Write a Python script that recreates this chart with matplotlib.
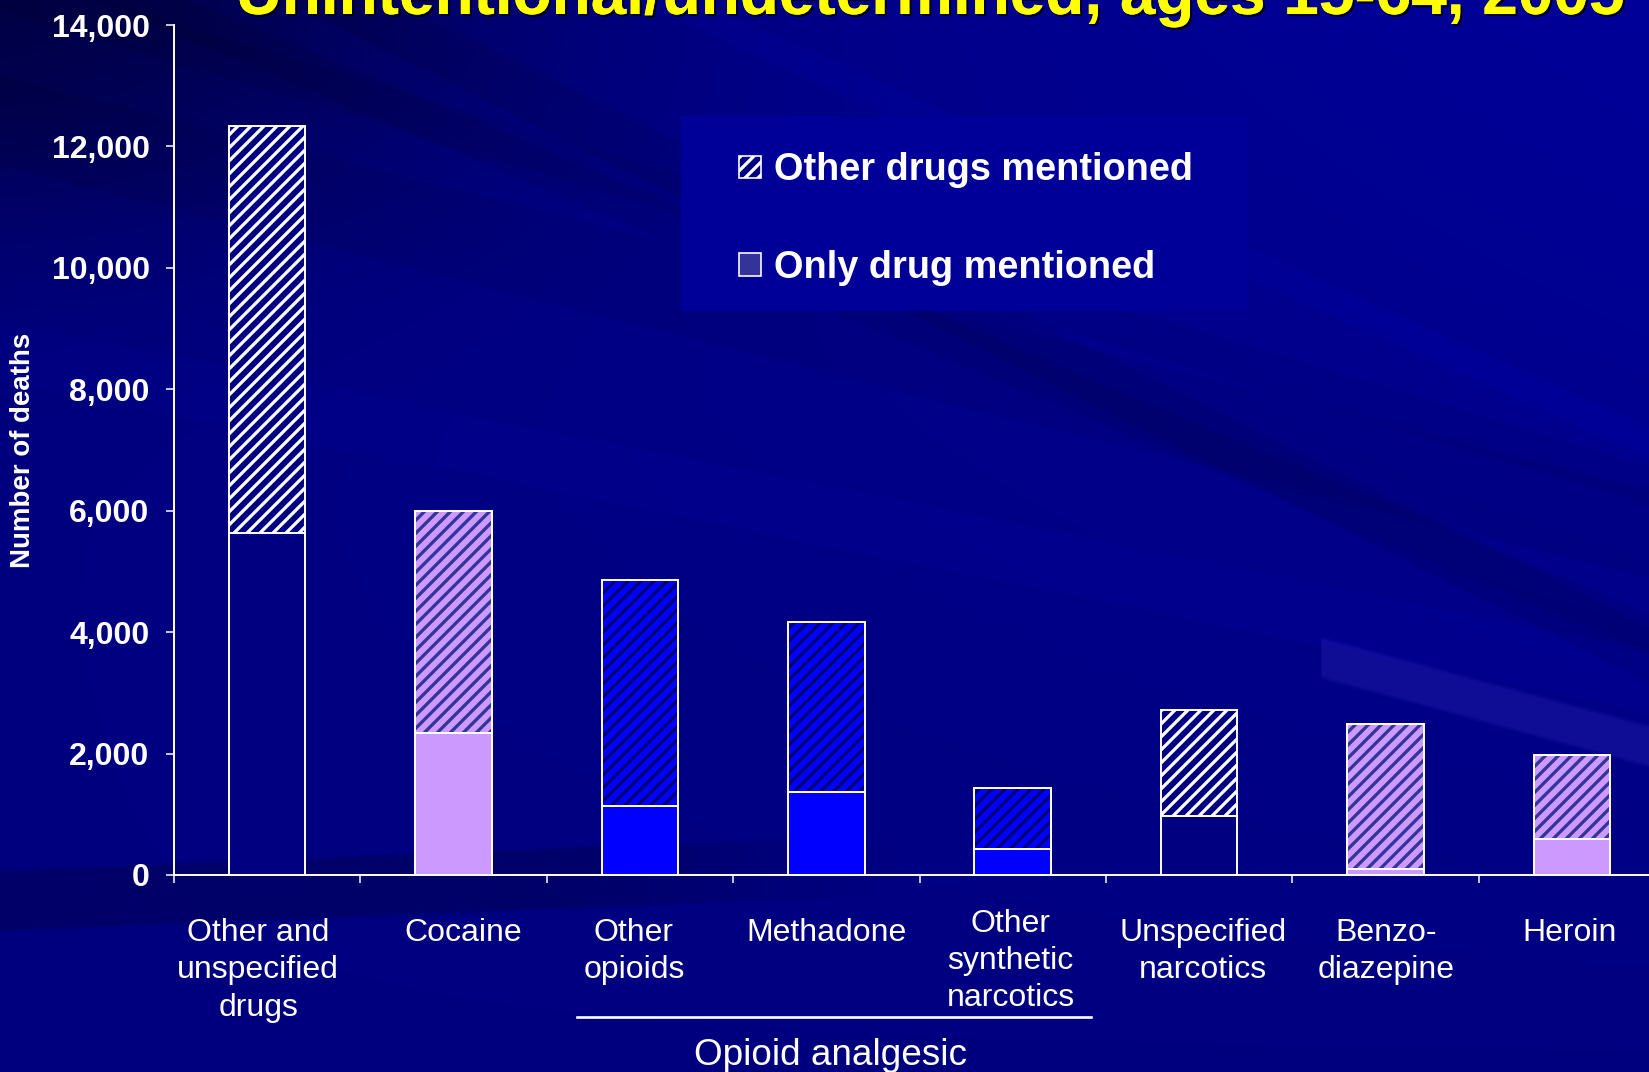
import numpy as np
import matplotlib.pyplot as plt
import matplotlib.patheffects as pe
from matplotlib.patches import Rectangle
from matplotlib.transforms import blended_transform_factory, ScaledTranslation

plt.rcParams['font.family'] = ['Liberation Sans', 'DejaVu Sans']
plt.rcParams['hatch.linewidth'] = 3.0

# ---- data ----
categories = ["Other and\nunspecified\ndrugs", "Cocaine", "Other\nopioids", "Methadone",
              "Other\nsynthetic\nnarcotics", "Unspecified\nnarcotics", "Benzo-\ndiazepine", "Heroin"]
only_drug = [5630, 2340, 1135, 1365, 428, 975, 100, 585]
other_drugs = [6700, 3650, 3725, 2810, 1002, 1745, 2390, 1395]
bar_colors = ["#000080", "#CC99FF", "#0000FF", "#0000FF", "#0000FF", "#000080", "#CC99FF", "#CC99FF"]
hatch_colors = ["#FFFFFF", "#333399", "#000070", "#000070", "#000070", "#FFFFFF", "#333399", "#333399"]
yticks = [0, 2000, 4000, 6000, 8000, 10000, 12000, 14000]
legend_labels = ["Other drugs mentioned", "Only drug mentioned"]
title = "Unintentional/undetermined, ages 15-64, 2005"
group_label = "Opioid analgesic"
group_members = [2, 3, 4]

W, H, DPI = 1649, 1072, 78
fig = plt.figure(figsize=(W / DPI, H / DPI), dpi=DPI)

# ---- slide background: navy gradient with faint diagonal streaks ----
yy, xx = np.mgrid[0:H:2, 0:W:2].astype(float)
blue = (0.50 + 0.10 * (xx / W) * (1 - yy / H)
        - 0.22 * np.exp(-((xx / W) ** 2 + (yy / H * 1.5) ** 2) / 0.10))

def band(y0, slope, width, amp):
    d = yy - (y0 + slope * xx)
    return amp * np.clip((width / 2 - np.abs(d)) / 4 + 0.5, 0, 1)

blue += band(120, 0.25, 90, -0.03)
blue += band(-10, 0.30, 40, -0.025)
blue += band(-170, 0.50, 55, -0.04)
blue += band(-60, 0.42, 40, -0.035)
blue += band(350, 0.20, 60, 0.02)
blue += band(-300, 0.45, 30, 0.03)
blue += band(900, -0.04, 60, -0.09) * np.clip((900 - xx) / 300, 0, 1)
light = band(300, 0.27, 40, 1.0) * (xx > 1320)
blue += 0.06 * light
img = np.dstack([0.06 * light, 0.05 * light, np.clip(blue, 0, 1)])
bg = fig.add_axes([0, 0, 1, 1], zorder=-1)
bg.imshow(img, aspect='auto', extent=[0, 1, 0, 1], interpolation='bilinear')
bg.axis('off')

# ---- main axes ----
ax = fig.add_axes([174 / W, (H - 875) / H, 1491 / W, 850 / H])
ax.patch.set_alpha(0)
x = np.arange(len(categories))
bw = 0.41

ax.bar(x, only_drug, width=bw, color=bar_colors, edgecolor='white', linewidth=1.8, zorder=3)
ax.bar(x, other_drugs, bottom=only_drug, width=bw, color=bar_colors,
       edgecolor=hatch_colors, hatch='//', linewidth=0, zorder=3)
ax.bar(x, other_drugs, bottom=only_drug, width=bw, fill=False,
       edgecolor='white', linewidth=1.8, zorder=4)

ax.set_xlim(-0.5, len(categories) - 0.5)
ax.set_ylim(0, 14000)
for s in ['top', 'right']:
    ax.spines[s].set_visible(False)
for s in ['left', 'bottom']:
    ax.spines[s].set_color('white')
    ax.spines[s].set_linewidth(1.8)

ax.set_yticks(yticks)
ax.set_yticklabels([f"{v:,}" for v in yticks], fontsize=29.5, fontweight='bold', color='white')
ax.tick_params(axis='y', direction='out', length=7.5, width=1.4, color='white', pad=15)

ax.set_xticks(np.arange(len(categories) + 1) - 0.5)
ax.set_xticklabels([])
ax.tick_params(axis='x', which='major', direction='out', length=7.5, width=1.4, color='white')
ax.set_xticks(x, minor=True)
ax.set_xticklabels(categories, minor=True, fontsize=29.5, color='white', linespacing=1.31)
ax.tick_params(axis='x', which='minor', length=0, pad=40)
# small nudges of the category labels as placed on the slide (pixels)
nudge = [(-9, 0), (10, 0), (-6, 0), (0, 0), (-2, 9.5), (4, 0), (1, 0), (-2, 0)]
for lab, (dx, dy) in zip(ax.get_xticklabels(minor=True), nudge):
    lab.set_transform(lab.get_transform() + ScaledTranslation(dx / DPI, dy / DPI, fig.dpi_scale_trans))

fig.text(23 / W, 0.5 - (450 - 536) / H, "Number of deaths", rotation=90, ha='center', va='center',
         fontsize=25.5, fontweight='bold', color='white')

# opioid analgesic bracket
tr = blended_transform_factory(ax.transData, ax.transAxes)
ax.plot([group_members[0] - 0.34, group_members[-1] + 0.42], [-0.167, -0.167], color='white',
        lw=2.4, transform=tr, clip_on=False)
ax.text(np.mean(group_members) + 0.02, -0.212, group_label, transform=tr, ha='center', va='center',
        fontsize=34, color='white')

# title (cut by the top edge, as on the slide)
fig.text(930 / W, 1 - 14 / H, title, ha='center', va='baseline', fontsize=59, fontweight='bold',
         color='#FFFF00',
         path_effects=[pe.withSimplePatchShadow(offset=(2, -2), shadow_rgbFace='black', alpha=0.8),
                       pe.Normal()])

# legend panel
fig.patches.append(Rectangle((681 / W, 1 - 311 / H), 567 / W, 195 / H, transform=fig.transFigure,
                             facecolor='#000099', edgecolor='none', zorder=5))
fig.patches.append(Rectangle((739 / W, 1 - 178 / H), 22 / W, 22 / H, transform=fig.transFigure,
                             facecolor='#000080', edgecolor='white', hatch='//', linewidth=1.5, zorder=6))
fig.patches.append(Rectangle((739 / W, 1 - 276 / H), 22 / W, 23 / H, transform=fig.transFigure,
                             facecolor='#333399', edgecolor='white', linewidth=1.5, zorder=6))
for lbl, yc in zip(legend_labels, [170, 268]):
    fig.text(774 / W, 1 - yc / H, lbl, ha='left', va='center', fontsize=35, fontweight='bold',
             color='white', zorder=7)

fig.savefig('out.png', dpi=DPI)
